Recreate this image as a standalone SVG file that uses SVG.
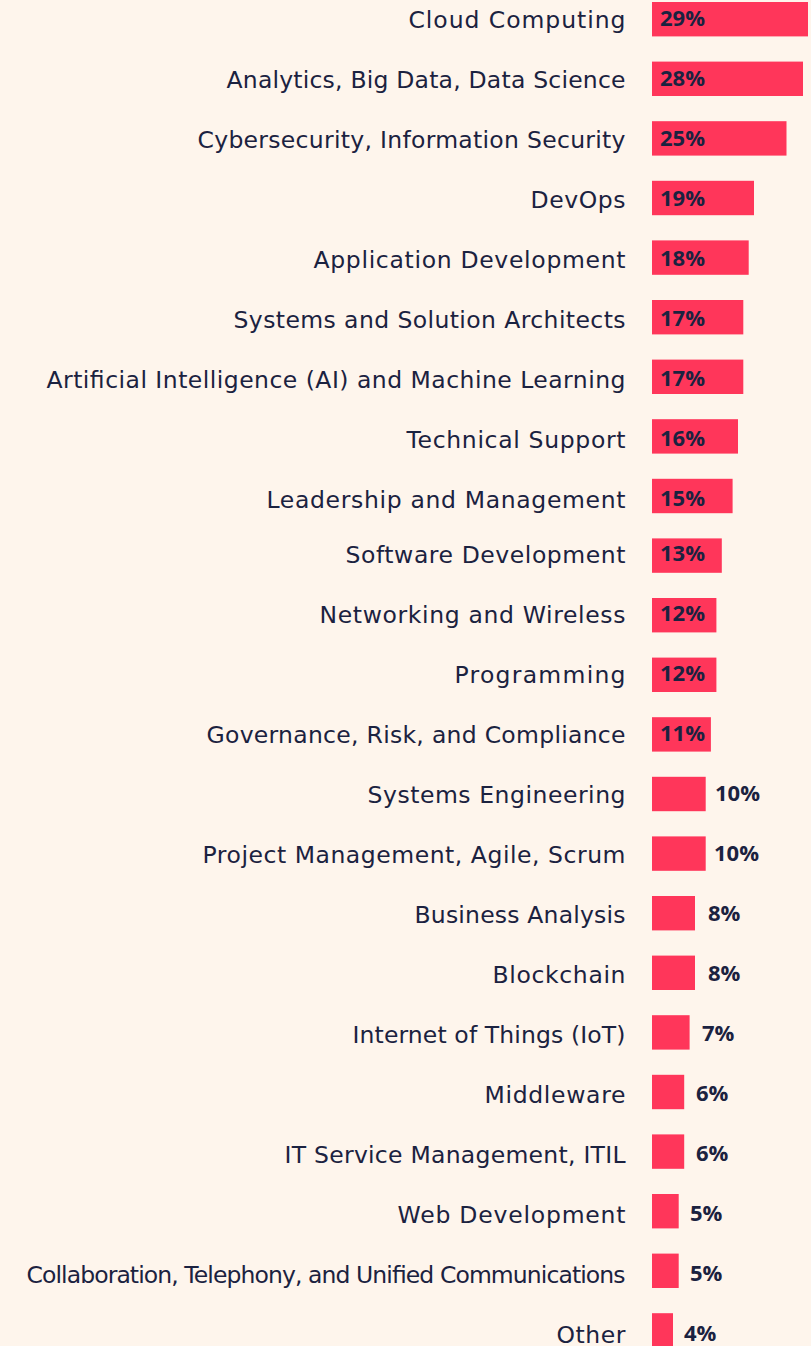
<svg xmlns="http://www.w3.org/2000/svg" width="811" height="1346" viewBox="0 0 811 1346">
<style>
.bg{fill:#FEF5EC}
.bar{fill:#FF365A}
.lbl{font-family:"DejaVu Sans","Open Sans","Liberation Sans",sans-serif;font-size:23.5px;fill:#1B2240;text-anchor:end}
.val{font-family:"Open Sans","Liberation Sans",sans-serif;font-size:22px;font-weight:700;fill:#1B2240}
</style>
<rect class="bg" x="0" y="0" width="811" height="1346"/>
<g id="row-cloud"><text class="lbl" x="625.5" y="28.3" textLength="217">Cloud Computing</text><rect class="bar" x="652" y="2" width="156" height="34.4"/><text class="val" x="660" y="26.2">29%</text></g>
<g id="row-analytics"><text class="lbl" x="625.5" y="88.3" textLength="399">Analytics, Big Data, Data Science</text><rect class="bar" x="652" y="61.6" width="151" height="34.4"/><text class="val" x="660" y="86.2">28%</text></g>
<g id="row-cyber"><text class="lbl" x="625.5" y="148.3" textLength="428">Cybersecurity, Information Security</text><rect class="bar" x="652" y="121.2" width="134.5" height="34.4"/><text class="val" x="660" y="146.2">25%</text></g>
<g id="row-devops"><text class="lbl" x="625.5" y="208.3" textLength="95">DevOps</text><rect class="bar" x="652" y="180.8" width="102" height="34.4"/><text class="val" x="660" y="206.2">19%</text></g>
<g id="row-appdev"><text class="lbl" x="625.5" y="268.3" textLength="312">Application Development</text><rect class="bar" x="652" y="240.4" width="96.7" height="34.4"/><text class="val" x="660" y="266.2">18%</text></g>
<g id="row-architects"><text class="lbl" x="625.5" y="328.3" textLength="392">Systems and Solution Architects</text><rect class="bar" x="652" y="300" width="91.3" height="34.4"/><text class="val" x="660" y="326.2">17%</text></g>
<g id="row-ai"><text class="lbl" x="625.5" y="388.3" textLength="579">Artificial Intelligence (AI) and Machine Learning</text><rect class="bar" x="652" y="359.6" width="91.3" height="34.4"/><text class="val" x="660" y="386.2">17%</text></g>
<g id="row-support"><text class="lbl" x="625.5" y="448.3" textLength="219">Technical Support</text><rect class="bar" x="652" y="419.2" width="86" height="34.4"/><text class="val" x="660" y="446.2">16%</text></g>
<g id="row-leadership"><text class="lbl" x="625.5" y="508.3" textLength="359">Leadership and Management</text><rect class="bar" x="652" y="478.8" width="80.6" height="34.4"/><text class="val" x="660" y="506.2">15%</text></g>
<g id="row-software"><text class="lbl" x="625.5" y="563.3" textLength="280">Software Development</text><rect class="bar" x="652" y="538.4" width="69.8" height="34.4"/><text class="val" x="660" y="561.2">13%</text></g>
<g id="row-networking"><text class="lbl" x="625.5" y="623.3" textLength="306">Networking and Wireless</text><rect class="bar" x="652" y="598" width="64.4" height="34.4"/><text class="val" x="660" y="621.2">12%</text></g>
<g id="row-programming"><text class="lbl" x="625.5" y="683.3" textLength="171">Programming</text><rect class="bar" x="652" y="657.6" width="64.4" height="34.4"/><text class="val" x="660" y="681.2">12%</text></g>
<g id="row-governance"><text class="lbl" x="625.5" y="743.3" textLength="419">Governance, Risk, and Compliance</text><rect class="bar" x="652" y="717.2" width="58.9" height="34.4"/><text class="val" x="660" y="741.2">11%</text></g>
<g id="row-syseng"><text class="lbl" x="625.5" y="803.3" textLength="258">Systems Engineering</text><rect class="bar" x="652" y="776.8" width="53.7" height="34.4"/><text class="val" x="715" y="801.2">10%</text></g>
<g id="row-project"><text class="lbl" x="625.5" y="863.3" textLength="423">Project Management, Agile, Scrum</text><rect class="bar" x="652" y="836.4" width="53.7" height="34.4"/><text class="val" x="714" y="861.2">10%</text></g>
<g id="row-business"><text class="lbl" x="625.5" y="923.3" textLength="211">Business Analysis</text><rect class="bar" x="652" y="896" width="43" height="34.4"/><text class="val" x="708" y="921.2">8%</text></g>
<g id="row-blockchain"><text class="lbl" x="625.5" y="983.3" textLength="133">Blockchain</text><rect class="bar" x="652" y="955.6" width="43" height="34.4"/><text class="val" x="708" y="981.2">8%</text></g>
<g id="row-iot"><text class="lbl" x="625.5" y="1043.3" textLength="273">Internet of Things (IoT)</text><rect class="bar" x="652" y="1015.2" width="37.6" height="34.4"/><text class="val" x="702" y="1041.2">7%</text></g>
<g id="row-middleware"><text class="lbl" x="625.5" y="1103.3" textLength="141">Middleware</text><rect class="bar" x="652" y="1074.8" width="32.2" height="34.4"/><text class="val" x="696" y="1101.2">6%</text></g>
<g id="row-itsm"><text class="lbl" x="625.5" y="1163.3" textLength="341">IT Service Management, ITIL</text><rect class="bar" x="652" y="1134.4" width="32.2" height="34.4"/><text class="val" x="696" y="1161.2">6%</text></g>
<g id="row-webdev"><text class="lbl" x="625.5" y="1223.3" textLength="228">Web Development</text><rect class="bar" x="652" y="1194" width="26.7" height="34.4"/><text class="val" x="690" y="1221.2">5%</text></g>
<g id="row-collab"><text class="lbl" x="625.5" y="1283.3" textLength="599">Collaboration, Telephony, and Unified Communications</text><rect class="bar" x="652" y="1253.6" width="26.7" height="34.4"/><text class="val" x="690" y="1281.2">5%</text></g>
<g id="row-other"><text class="lbl" x="625.5" y="1342.5" textLength="69">Other</text><rect class="bar" x="652" y="1313.2" width="21" height="34.4"/><text class="val" x="684" y="1341">4%</text></g>
<g id="connectors"/>
</svg>
